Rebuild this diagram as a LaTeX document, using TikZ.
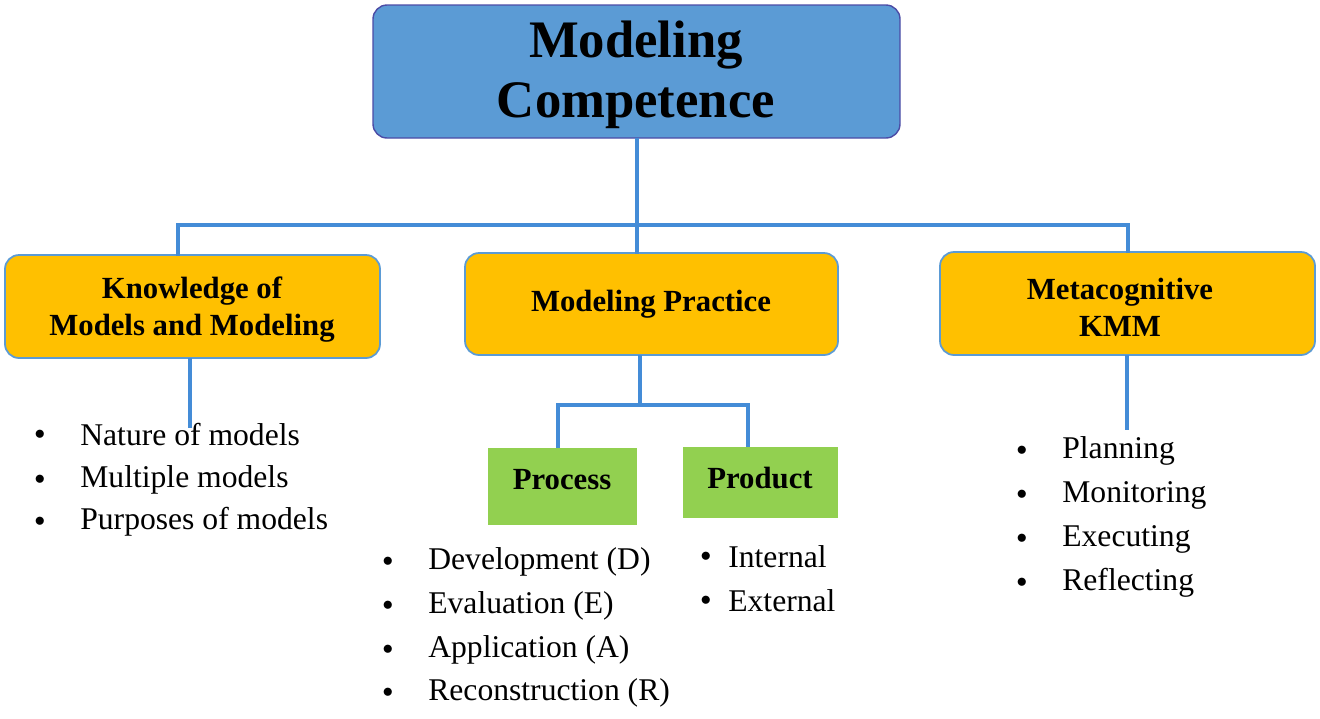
\documentclass[tikz,border=0pt]{standalone}
\usepackage{fontspec}
\setmainfont{Liberation Serif}
\begin{document}
\begin{tikzpicture}[x=0.02cm,y=-0.02cm,
 line/.style={draw={rgb,255:red,68;green,140;blue,215},line width=2pt},
 topbox/.style={draw=blue!50!black!70,fill={rgb,255:red,91;green,155;blue,213},rounded corners=8pt,line width=0.8pt},
 catbox/.style={draw={rgb,255:red,91;green,155;blue,213},fill={rgb,255:red,255;green,192;blue,0},rounded corners=8pt,line width=1pt},
 subbox/.style={fill={rgb,255:red,146;green,208;blue,80},draw=none},
 item/.style={anchor=west,inner sep=0pt,font=\fontsize{18}{20}\selectfont},
 bul/.style={inner sep=0pt,font=\fontsize{12}{14}\selectfont},
 boxtext/.style={font=\bfseries\fontsize{17.5}{21}\selectfont}]
\useasboundingbox (0,0) rectangle (1320,718);
\draw[topbox] (373,5) rectangle (900,138);
\node[align=center,font=\bfseries\fontsize{30}{34}\selectfont] (top) at (636,75) {Modeling\\Competence};
\draw[catbox] (5,255) rectangle (380,358);
\node[align=center,boxtext] (k) at (192,310) {Knowledge of\\Models and Modeling};
\draw[catbox] (465,253) rectangle (838,355);
\node[boxtext] (m) at (651,304) {Modeling Practice};
\draw[catbox] (940,252) rectangle (1315,355);
\node[align=center,boxtext] (g) at (1120,307) {Metacognitive\\KMM};
\draw[subbox] (488,448) rectangle (637,525);
\node[boxtext] (pr) at (562,480) {Process};
\draw[subbox] (683,447) rectangle (838,518);
\node[boxtext] (pd) at (760,478) {Product};
\coordinate (tb) at (637,138);
\coordinate (hj) at (637,225);
\coordinate (hl) at (178,225);
\coordinate (hr) at (1128,225);
\draw[line] (tb) -- (hj);
\draw[line] (hl |- 0,256) -- (hl) -- (hr) -- (hr |- 0,253);
\draw[line] (hj) -- (637,254);
\draw[line] (190,358) -- (190,428);
\draw[line] (1127,355) -- (1127,430);
\draw[line] (640,355) -- (640,405);
\draw[line] (558,448) -- (558,405) -- (748,405) -- (748,447);
\foreach \t/\y [count=\i] in {Nature of models/435,Multiple models/480,Purposes of models/522}{
 \node[bul] (lb\i) at (40,\y) {$\bullet$};
 \node[item] (l\i) at (80,\y) {\t};}
\foreach \t/\y [count=\i] in {Development (D)/562,Evaluation (E)/606,Application (A)/650,Reconstruction (R)/693}{
 \node[bul] (pb\i) at (388,\y) {$\bullet$};
 \node[item] (p\i) at (428,\y) {\t};}
\foreach \t/\y [count=\i] in {Internal/557,External/601}{
 \node[bul] (db\i) at (706,\y) {$\bullet$};
 \node[item] (d\i) at (728,\y) {\t};}
\foreach \t/\y [count=\i] in {Planning/451,Monitoring/495,Executing/539,Reflecting/583}{
 \node[bul] (rb\i) at (1022,\y) {$\bullet$};
 \node[item] (r\i) at (1062,\y) {\t};}
\end{tikzpicture}
\end{document}
